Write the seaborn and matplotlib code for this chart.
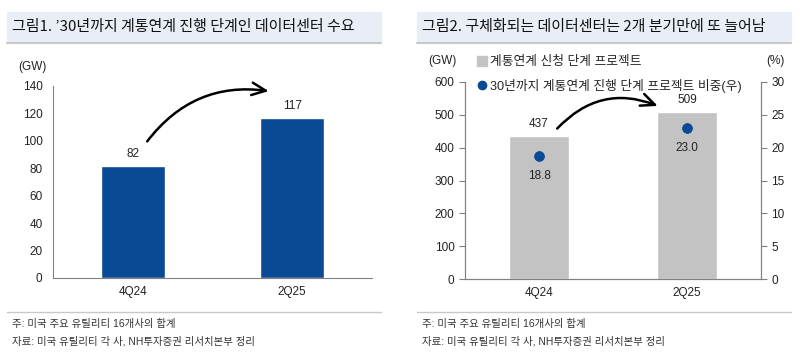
import seaborn as sns
import matplotlib.pyplot as plt
from matplotlib.patches import Rectangle, FancyArrowPatch
from matplotlib.lines import Line2D

# 데이터
quarters = ["4Q24", "2Q25"]
demand_gw = [82, 117]            # 그림1: 계통연계 진행 단계 데이터센터 수요
applied_gw = [437, 509]          # 그림2: 계통연계 신청 단계 프로젝트
progress_share = [18.8, 23.0]    # 그림2: 30년까지 계통연계 진행 단계 비중(우)

titles = ["그림1. ’30년까지 계통연계 진행 단계인 데이터센터 수요",
          "그림2. 구체화되는 데이터센터는 2개 분기만에 또 늘어남"]
legend_labels = ["계통연계 신청 단계 프로젝트", "30년까지 계통연계 진행 단계 프로젝트 비중(우)"]
notes = ["주: 미국 주요 유틸리티 16개사의 합계",
         "자료: 미국 유틸리티 각 사, NH투자증권 리서치본부 정리"]

sns.set_style("white")
plt.rcParams['font.family'] = ['Liberation Sans', 'Noto Sans CJK KR', 'DejaVu Sans']
plt.rcParams['axes.edgecolor'] = '#808080'
plt.rcParams['xtick.color'] = '#808080'
plt.rcParams['ytick.color'] = '#808080'

W, H = 800, 354
fig = plt.figure(figsize=(8, 3.54), dpi=100)

def fx(px):
    return px / W

def fy(py):
    return 1 - py / H

blue = '#0a4a94'
grey_bar = '#c3c3c3'
txt = '#222222'

# 제목 띠, 구분선, 주석
for x0, x1, t in [(7, 381, titles[0]), (417, 791, titles[1])]:
    fig.patches.append(Rectangle((fx(x0), fy(42)), fx(x1 - x0), (42 - 12) / H,
                                 transform=fig.transFigure, color='#e9edf5', zorder=0))
    fig.add_artist(Line2D([fx(x0), fx(x1)], [fy(42.5), fy(42.5)], color='#c8c8c8', lw=1.5))
    fig.text(fx(x0 + 5), fy(27), t, fontsize=10.8, va='center', ha='left',
             family=['Noto Sans CJK KR'], color='#111111')
    fig.add_artist(Line2D([fx(x0), fx(x1)], [fy(312), fy(312)], color='#c8c8c8', lw=1))
    fig.text(fx(x0 + 5), fy(324), notes[0], fontsize=7.5, va='center', color='#333333')
    fig.text(fx(x0 + 5), fy(341), notes[1], fontsize=7.5, va='center', color='#333333')

def style_x(ax):
    ax.set_xlim(-0.5, 1.5)
    ax.set_xlabel("")
    ax.set_ylabel("")
    ax.set_xticks([-0.5, 0.5, 1.5], minor=True)
    ax.tick_params(axis='x', which='major', length=0, labelsize=8.5, labelcolor=txt, pad=6)
    ax.tick_params(axis='x', which='minor', length=4, direction='out')
    ax.tick_params(axis='y', length=4, direction='out', labelsize=8.5, labelcolor=txt)

arrow_kw = dict(arrowstyle="->,head_length=10,head_width=4.5", color='black',
                lw=1.8, mutation_scale=1, clip_on=False)

# 그림1
ax1 = fig.add_axes([fx(53), fy(278), fx(372 - 53), (278 - 86) / H])
sns.barplot(x=quarters, y=demand_gw, ax=ax1, color=blue, width=0.4, saturation=1)
ax1.set_ylim(0, 140)
ax1.set_yticks(range(0, 141, 20))
style_x(ax1)
sns.despine(ax=ax1)
for i, v in enumerate(demand_gw):
    ax1.text(i, v + 4, f"{v}", ha='center', va='bottom', fontsize=8.5, color=txt)
ax1.text(-0.065, 1.10, "(GW)", transform=ax1.transAxes, ha='center', va='center',
         fontsize=8.5, color=txt)
ax1.add_patch(FancyArrowPatch((0.08, 98), (0.87, 136), connectionstyle="arc3,rad=-0.3",
                              **arrow_kw))

# 그림2
ax2 = fig.add_axes([fx(465), fy(279), fx(761 - 465), (279 - 82) / H])
sns.barplot(x=quarters, y=applied_gw, ax=ax2, color=grey_bar, width=0.41, saturation=1)
ax2.set_ylim(0, 600)
ax2.set_yticks(range(0, 601, 100))
style_x(ax2)
ax2.spines['top'].set_visible(False)
for i, v in enumerate(applied_gw):
    ax2.text(i, v + 18, f"{v}", ha='center', va='bottom', fontsize=8.5, color=txt)

ax3 = ax2.twinx()
sns.scatterplot(x=[0, 1], y=progress_share, ax=ax3, color=blue, s=50, edgecolor=blue, zorder=5)
ax3.set_ylim(0, 30)
ax3.set_yticks(range(0, 31, 5))
ax3.set_xlim(-0.5, 1.5)
ax3.set_ylabel("")
ax3.spines['top'].set_visible(False)
ax3.tick_params(axis='y', length=4, direction='out', labelsize=8.5, labelcolor=txt)
for i, v in enumerate(progress_share):
    ax3.text(i, v - 2.2, f"{v:.1f}", ha='center', va='top', fontsize=8.5, color=txt)
ax2.text(-0.075, 1.105, "(GW)", transform=ax2.transAxes, ha='center', va='center',
         fontsize=8.5, color=txt)
ax2.text(1.05, 1.105, "(%)", transform=ax2.transAxes, ha='center', va='center',
         fontsize=8.5, color=txt)
ax3.add_patch(FancyArrowPatch((0.11, 22.6), (0.82, 26.2), connectionstyle="arc3,rad=-0.35",
                              **arrow_kw))

handles = [Line2D([], [], marker='s', ls='', color=grey_bar, markersize=7),
           Line2D([], [], marker='o', ls='', color=blue, markersize=6)]
ax3.legend(handles, legend_labels, loc='upper left', bbox_to_anchor=(fx(472), fy(50)),
           bbox_transform=fig.transFigure, frameon=False, fontsize=9.2,
           handlelength=0.6, handletextpad=0.3, labelspacing=0.8, borderpad=0)

fig.savefig("out.png", dpi=100)
